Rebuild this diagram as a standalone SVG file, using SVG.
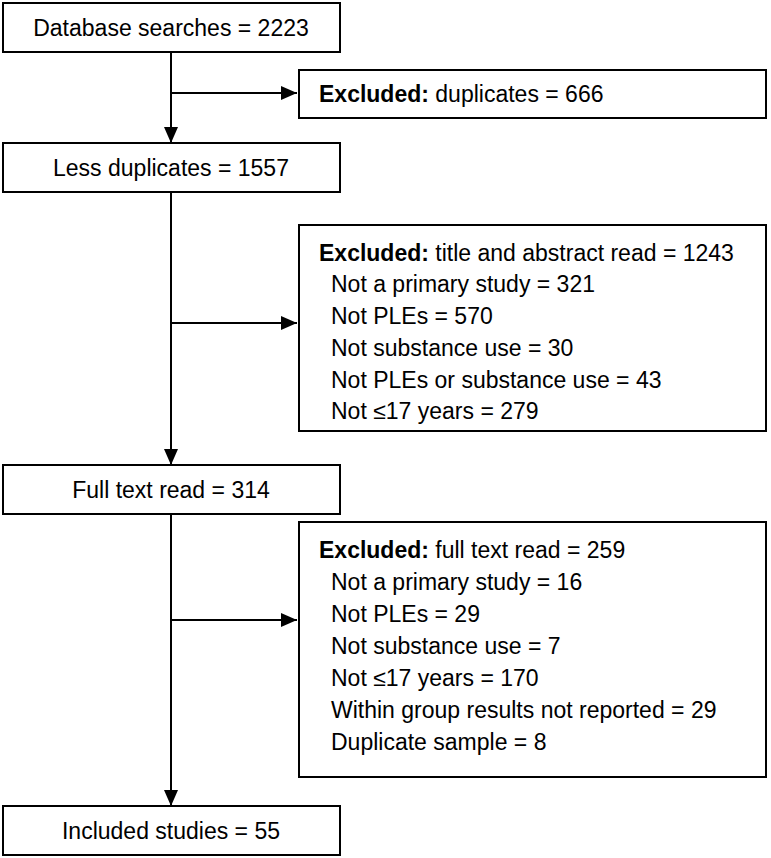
<svg xmlns="http://www.w3.org/2000/svg" width="771" height="858" viewBox="0 0 771 858">
<defs><marker id="a" viewBox="0 0 16 14" markerWidth="16" markerHeight="14" refX="16" refY="7" orient="auto" markerUnits="userSpaceOnUse"><path d="M0,0 L16,7 L0,14 z" fill="#000"/></marker></defs>
<style>rect{fill:#fff;stroke:#000;stroke-width:2}text{font-family:"Liberation Sans",Arial,sans-serif;font-size:23px;fill:#000}.c{text-anchor:middle}line{stroke:#000;stroke-width:2}</style>
<rect width="771" height="858" style="stroke:none"/>
<g id="connectors">
<line x1="171" y1="52" x2="171" y2="143" marker-end="url(#a)"/>
<line x1="171" y1="93" x2="297" y2="93" marker-end="url(#a)"/>
<line x1="171" y1="192" x2="171" y2="465" marker-end="url(#a)"/>
<line x1="171" y1="323" x2="297" y2="323" marker-end="url(#a)"/>
<line x1="171" y1="514" x2="171" y2="806" marker-end="url(#a)"/>
<line x1="171" y1="620" x2="297" y2="620" marker-end="url(#a)"/>
</g>
<g id="n1"><rect x="3" y="3" width="337" height="49"/><text class="c" x="171" y="36">Database searches = 2223</text></g>
<g id="n2"><rect x="299" y="70" width="467" height="48"/><text x="319" y="102"><tspan font-weight="bold">Excluded:</tspan> duplicates = 666</text></g>
<g id="n3"><rect x="3" y="143" width="337" height="49"/><text class="c" x="171" y="176">Less duplicates = 1557</text></g>
<g id="n4"><rect x="299" y="225" width="467" height="206"/>
<text x="319" y="261"><tspan font-weight="bold">Excluded:</tspan> title and abstract read = 1243</text>
<text x="331" y="292">Not a primary study = 321</text>
<text x="331" y="324">Not PLEs = 570</text>
<text x="331" y="356">Not substance use = 30</text>
<text x="331" y="388">Not PLEs or substance use = 43</text>
<text x="331" y="419">Not ≤17 years = 279</text></g>
<g id="n5"><rect x="3" y="465" width="337" height="49"/><text class="c" x="171" y="498">Full text read = 314</text></g>
<g id="n6"><rect x="299" y="522" width="467" height="255"/>
<text x="319" y="558"><tspan font-weight="bold">Excluded:</tspan> full text read = 259</text>
<text x="331" y="590">Not a primary study = 16</text>
<text x="331" y="622">Not PLEs = 29</text>
<text x="331" y="654">Not substance use = 7</text>
<text x="331" y="686">Not ≤17 years = 170</text>
<text x="331" y="718">Within group results not reported = 29</text>
<text x="331" y="750">Duplicate sample = 8</text></g>
<g id="n7"><rect x="3" y="806" width="337" height="49"/><text class="c" x="171" y="839">Included studies = 55</text></g>
</svg>
